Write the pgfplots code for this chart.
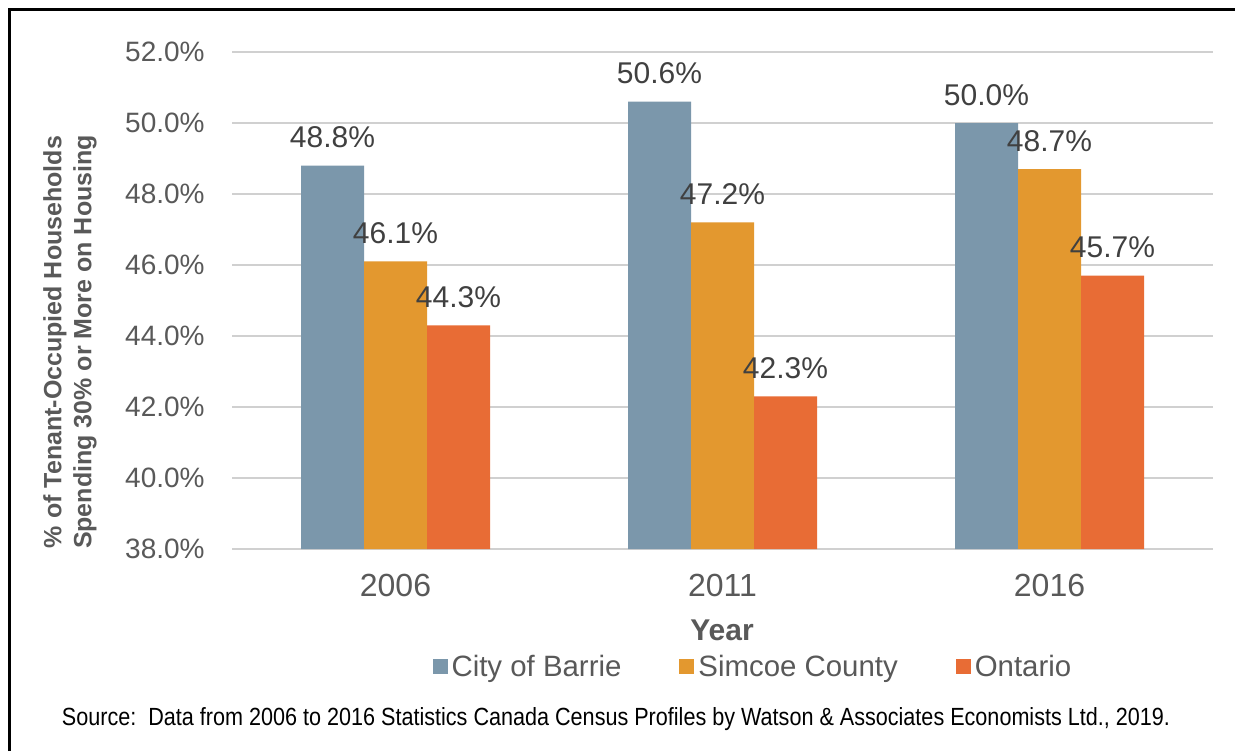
\documentclass[border=0pt]{standalone}
\usepackage{pgfplots}
\pgfplotsset{compat=1.18}
\usepackage{fontspec}
\setmainfont{Liberation Sans}
\definecolor{barrie}{HTML}{7B97AB}
\definecolor{simcoe}{HTML}{E3982F}
\definecolor{ontario}{HTML}{E86C35}
\definecolor{txt}{HTML}{595959}
\definecolor{lbl}{HTML}{404040}
\definecolor{gridc}{HTML}{D0D0D0}
\begin{document}
\begin{tikzpicture}[x=1pt,y=1pt]
\useasboundingbox (0,0) rectangle (617.5,375.5);
\fill[white] (0,0) rectangle (617.5,375.5);
\draw[black, line width=1.5pt] (4.5,0) -- (4.5,370.5) -- (617.5,370.5);
\begin{axis}[
  at={(116pt,101pt)}, anchor=south west,
  scale only axis, width=490.5pt, height=248.5pt,
  ybar=0pt, bar width=31.5pt,
  xmin=-0.5, xmax=2.5, ymin=38, ymax=52,
  enlarge y limits=false,
  xtick={0,1,2}, xticklabels={2006,2011,2016},
  ytick={38,40,42,44,46,48,50,52},
  yticklabel={\pgfmathprintnumber[fixed,fixed zerofill,precision=1]{\tick}\%},
  /pgf/number format/assume math mode=true,
  axis line style={draw=none},
  major tick length=0pt,
  ymajorgrids, major grid style={draw=gridc, line width=1pt},
  yticklabel style={font=\fontsize{14}{16}\selectfont, text=txt, anchor=east, inner sep=0pt, xshift=-13.5pt},
  xticklabel style={font=\fontsize{16}{18}\selectfont, text=txt, anchor=north, inner sep=0pt, yshift=-12.5pt},
  nodes near coords={\pgfmathprintnumber[fixed,fixed zerofill,precision=1]{\pgfplotspointmeta}\%},
  every node near coord/.append style={font=\fontsize{15}{17}\selectfont, text=lbl, anchor=base, yshift=9pt},
  legend columns=3,
  legend style={at={(0.532,-0.2374)}, anchor=center, draw=none, fill=none,
    font=\fontsize{14.7}{16}\selectfont, text=txt,
    /tikz/every even column/.append style={column sep=27pt}},
  legend cell align=left,
  legend image code/.code={\fill[#1, draw=none] (0pt,-3.75pt) rectangle (7.5pt,3.75pt);},
]
\addplot[fill=barrie, draw=none] coordinates {(0,48.8) (1,50.6) (2,50.0)};
\addplot[fill=simcoe, draw=none] coordinates {(0,46.1) (1,47.2) (2,48.7)};
\addplot[fill=ontario, draw=none] coordinates {(0,44.3) (1,42.3) (2,45.7)};
\legend{City of Barrie, Simcoe County, Ontario}
\end{axis}
\node[rotate=90, align=center, font=\bfseries\fontsize{12.5}{15}\selectfont, text=txt] at (35,204.5) {\% of Tenant-Occupied Households\\Spending 30\% or More on Housing};
\node[font=\bfseries\fontsize{15}{17}\selectfont, text=txt] at (361,60.5) {Year};
\node[anchor=base, inner sep=0pt, text=black] at (308,13) {\resizebox{554pt}{9pt}{Source:\ \ Data from 2006 to 2016 Statistics Canada Census Profiles by Watson \& Associates Economists Ltd., 2019.}};
\end{tikzpicture}
\end{document}
